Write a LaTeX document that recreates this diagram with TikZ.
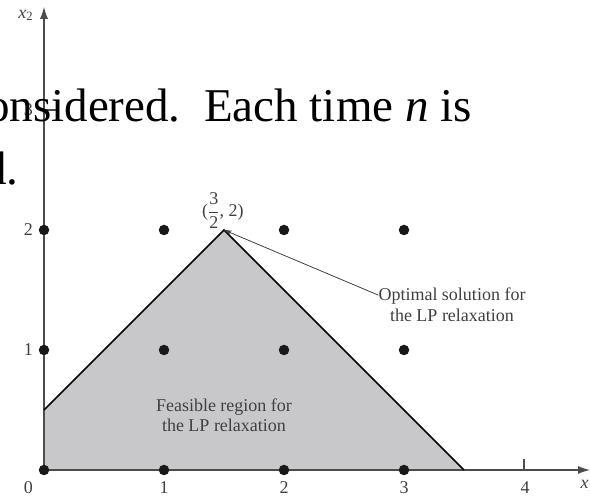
\documentclass[tikz,border=0pt]{standalone}
\usepackage{amsmath}
\usepackage{fontspec}
\setmainfont{Liberation Serif}
\usetikzlibrary{arrows.meta}
\definecolor{regfill}{RGB}{200,200,203}
\begin{document}
\begin{tikzpicture}[x=120pt,y=120pt,
  dot/.style={circle,fill=black!90,inner sep=0pt,minimum size=10.5pt},
  axis/.style={draw=black!70,line width=1.2pt},
  axarrow/.style={-{Latex[length=12pt,width=8pt]}},
  lbl/.style={font=\fontsize{18}{21}\selectfont,text=black!75,inner sep=0pt},
  edgeline/.style={draw=black,line width=1.6pt,line join=miter},
  bigtext/.style={font=\fontsize{47}{56}\selectfont,inner sep=0pt,anchor=base west}]
\useasboundingbox (-0.36667,-0.23333) rectangle (4.55,3.91667);
\clip (-0.36667,-0.23333) rectangle (4.55,3.91667);
% key points
\coordinate (O) at (0,0);
\coordinate (A) at (0,0.5);
\coordinate (P) at (1.5,2);
\coordinate (B) at (3.5,0);
\coordinate (xend) at (4.55,0);
\coordinate (yend) at (0,3.86);
% feasible region
\fill[regfill] (O) -- (A) -- (P) -- (B) -- cycle;
% axes
\draw[axis,axarrow] (O) -- (xend);
\draw[axis,axarrow] (O) -- (yend);
\coordinate (t3) at (0,3);
\coordinate (t4) at (4,0);
\draw[axis] (t3) -- ++(0.1,0);
\draw[axis] (t4) -- ++(0,0.095);
% edges
\draw[edgeline] (A) -- (P) -- (B);
% integer points
\foreach \i in {0,1,2,3}{
  \foreach \j in {0,1,2}{
    \node[dot] (p\i\j) at (\i,\j) {};
  }
}
% axis labels
\node[lbl] (l0) at (-0.13,-0.15) {0};
\node[lbl] (l1) at (1,-0.15) {1};
\node[lbl] (l2) at (2,-0.15) {2};
\node[lbl] (l3) at (3,-0.15) {3};
\node[lbl] (l4) at (4.01,-0.145) {4};
\node[lbl] (ly1) at (-0.13,1) {1};
\node[lbl] (ly2) at (-0.13,2) {2};
\node[lbl] (ly3) at (-0.13,3) {3};
\node[lbl,anchor=west] (lx2) at (-0.215,3.79) {\textit{x}\textsubscript{2}};
\node[lbl,anchor=west] (lx1) at (4.47,-0.13) {\textit{x}\textsubscript{1}};
% annotations
\node[lbl] (peak) at (1.49,2.16) {($\dfrac{\mbox{3}}{\mbox{2}}$, 2)};
\node[lbl,align=center,font=\fontsize{18}{20.5}\selectfont] (opt) at (3.4,1.375) {Optimal solution for\\the LP relaxation};
\node[lbl,align=center,font=\fontsize{18}{20.5}\selectfont] (feas) at (1.5,0.455) {Feasible region for\\the LP relaxation};
\draw[draw=black!75,line width=0.8pt,-{Stealth[length=8pt,width=5pt]}] ([yshift=-7pt]opt.north west) -- (P);
% overlaid slide text
\node[bigtext] (line1) at (-0.483,2.9) {onsidered.\hspace{0.5em}Each time \textit{n} is};
\node[bigtext] (line2) at (-0.51,2.375) {d.};
\end{tikzpicture}
\end{document}
